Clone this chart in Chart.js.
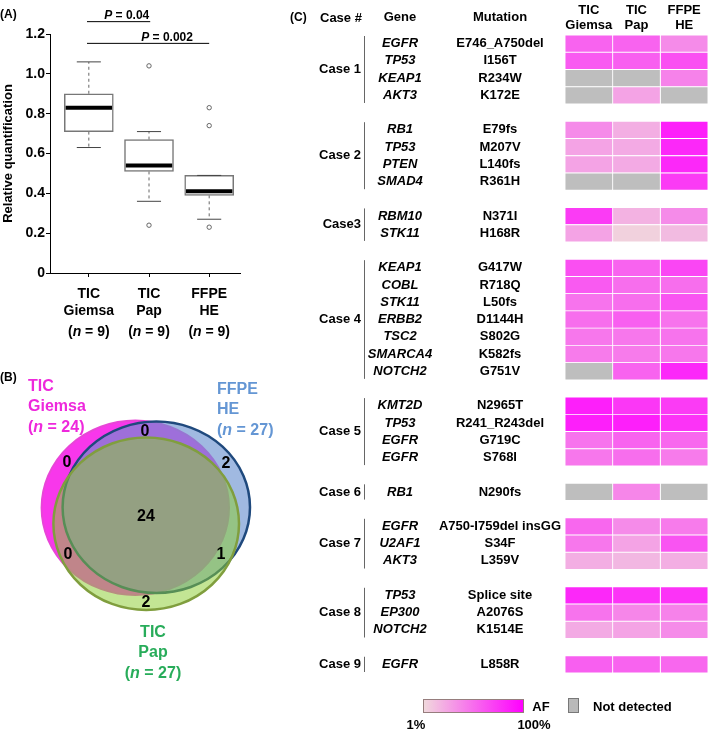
<!DOCTYPE html>
<html>
<head>
<meta charset="utf-8">
<script src="https://cdn.jsdelivr.net/npm/chart.js@4.4.0/dist/chart.umd.min.js"></script>
<style>
html, body { margin: 0; padding: 0; background: #fff; }
#wrap { position: relative; width: 709px; height: 731px; overflow: hidden; }
canvas { position: absolute; }
</style>
</head>
<body>
<div id="wrap">
	<canvas id="box" width="245" height="350" style="left:0;top:0"></canvas>
	<canvas id="venn" width="285" height="330" style="left:0;top:370px"></canvas>
	<canvas id="heat" width="424" height="731" style="left:285px;top:0"></canvas>
</div>
<script>
"use strict";

// ---- (A) box plot data ----
const groupLines = [['TIC', 'Giemsa'], ['TIC', 'Pap'], ['FFPE', 'HE']];
const groupN = [9, 9, 9];
const q1 = [0.71, 0.51, 0.39];
const median = [0.83, 0.54, 0.41];
const q3 = [0.90, 0.67, 0.49];
const whiskerLow = [0.63, 0.36, 0.27];
const whiskerHigh = [1.06, 0.71, 0.49];
const outliers = [[], [1.04, 0.24], [0.83, 0.74, 0.23]];
const yTicks = [0, 0.2, 0.4, 0.6, 0.8, 1.0, 1.2];
const pPairs = [[0, 1], [0, 2]];
const pValues = ['0.04', '0.002'];

// ---- (B) venn data ----
const vennNames = [['TIC', 'Giemsa'], ['FFPE', 'HE'], ['TIC', 'Pap']];
const vennTotals = [24, 27, 27];
// regions: Giemsa&HE only, Giemsa only, HE only, all, Giemsa&Pap only, HE&Pap only, Pap only
const vennCounts = [0, 0, 2, 24, 0, 1, 2];

// ---- (C) mutation table data ----
const caseLabels = ['Case 1', 'Case 2', 'Case3', 'Case 4', 'Case 5', 'Case 6', 'Case 7', 'Case 8', 'Case 9'];
const caseOf = [0, 0, 0, 0, 1, 1, 1, 1, 2, 2, 3, 3, 3, 3, 3, 3, 3, 4, 4, 4, 4, 5, 6, 6, 6, 7, 7, 7, 8];
const genes = ['EGFR', 'TP53', 'KEAP1', 'AKT3', 'RB1', 'TP53', 'PTEN', 'SMAD4', 'RBM10', 'STK11',
	'KEAP1', 'COBL', 'STK11', 'ERBB2', 'TSC2', 'SMARCA4', 'NOTCH2', 'KMT2D', 'TP53', 'EGFR', 'EGFR',
	'RB1', 'EGFR', 'U2AF1', 'AKT3', 'TP53', 'EP300', 'NOTCH2', 'EGFR'];
const mutations = ['E746_A750del', 'I156T', 'R234W', 'K172E', 'E79fs', 'M207V', 'L140fs', 'R361H', 'N371I', 'H168R',
	'G417W', 'R718Q', 'L50fs', 'D1144H', 'S802G', 'K582fs', 'G751V', 'N2965T', 'R241_R243del', 'G719C', 'S768I',
	'N290fs', 'A750-I759del insGG', 'S34F', 'L359V', 'Splice site', 'A2076S', 'K1514E', 'L858R'];
const columns = [['TIC', 'Giemsa'], ['TIC', 'Pap'], ['FFPE', 'HE']];
// allele frequency (%), null = not detected
const afGiemsa = [55, 59, null, null, 37, 26, 26, null, 73, 26, 64, 59, 48, 50, 46, 44, null, 86, 86, 48, 46, null, 53, 46, 21, 82, 48, 23, 57];
const afPap = [55, 57, null, 26, 21, 23, 23, null, 19, 5, 55, 50, 50, 57, 46, 44, 55, 75, 86, 55, 50, 39, 37, 26, 17, 77, 39, 26, 55];
const afHE = [37, 64, 41, null, 86, 82, 82, 73, 37, 15, 68, 50, 62, 48, 48, 46, 82, 73, 77, 53, 44, null, 44, 62, 21, 77, 41, 37, 53];

const FAMILY = '"Liberation Sans", Arial, sans-serif';
const font = (size, style) => `${style || 'bold'} ${size}px ${FAMILY}`;

Chart.defaults.font.family = FAMILY;
Chart.defaults.color = '#000';
Chart.defaults.animation = false;
Chart.defaults.plugins.legend.display = false;
Chart.defaults.plugins.tooltip.enabled = false;

function drawRuns(ctx, runs, x, y, align) {
	const widths = runs.map(r => { ctx.font = r[1]; return ctx.measureText(r[0]).width; });
	const total = widths.reduce((a, b) => a + b, 0);
	let sx = align === 'center' ? x - total / 2 : (align === 'right' ? x - total : x);
	ctx.textAlign = 'left';
	ctx.textBaseline = 'middle';
	runs.forEach((r, i) => { ctx.font = r[1]; ctx.fillText(r[0], sx, y); sx += widths[i]; });
}

function seg(x0, y0, x1, y1, color, width, dash, order) {
	return {
		type: 'line', data: [{x: x0, y: y0}, {x: x1, y: y1}],
		borderColor: color, borderWidth: width, borderDash: dash || [],
		pointRadius: 0, fill: false, tension: 0, clip: false, order: order
	};
}

// ================= (A) =================
const BOX_HALF = 0.405, CAP_HALF = 0.2;
const bracketY = [1.262, 1.153];
const pText = [{x: 1.63, y: 1.29}, {x: 2.30, y: 1.183}];

function boxDatasets() {
	const sets = [];
	sets.push({
		type: 'bar',
		data: q1.map((v, i) => ({x: i + 1, y: [v, q3[i]]})),
		backgroundColor: '#fff', borderColor: '#777', borderWidth: 1.5,
		borderSkipped: false, barThickness: 49, order: 5
	});
	q1.forEach((v, i) => {
		const x = i + 1;
		if (whiskerHigh[i] > q3[i]) sets.push(seg(x, q3[i], x, whiskerHigh[i], '#666', 1, [3, 3], 6));
		if (whiskerLow[i] < q1[i]) sets.push(seg(x, q1[i], x, whiskerLow[i], '#666', 1, [3, 3], 6));
		sets.push(seg(x - CAP_HALF, whiskerHigh[i], x + CAP_HALF, whiskerHigh[i], '#444', 1, [], 2));
		sets.push(seg(x - CAP_HALF, whiskerLow[i], x + CAP_HALF, whiskerLow[i], '#444', 1, [], 2));
		sets.push(seg(x - BOX_HALF + 0.02, median[i], x + BOX_HALF - 0.02, median[i], '#000', 4, [], 1));
	});
	sets.push({
		type: 'scatter',
		data: outliers.flatMap((list, i) => list.map(v => ({x: i + 1, y: v}))),
		pointRadius: 2.2, pointBackgroundColor: '#fff', pointBorderColor: '#666', pointBorderWidth: 1, order: 0
	});
	pPairs.forEach((p, k) => {
		sets.push(seg(p[0] + 1 - 0.03, bracketY[k], p[1] + 1 + (k === 0 ? 0.02 : 0), bracketY[k], '#000', 1, [], 0));
	});
	return sets;
}

const boxText = {
	id: 'boxText',
	afterDraw(chart) {
		const {ctx, scales: {x, y}} = chart;
		ctx.save();
		ctx.fillStyle = '#000';
		drawRuns(ctx, [['(A)', font(12)]], 0, 15, 'left');
		groupN.forEach((n, i) => {
			drawRuns(ctx, [['(', font(14)], ['n', font(14, 'italic bold')], [' = ' + n + ')', font(14)]],
				x.getPixelForValue(i + 1), 332, 'center');
		});
		pValues.forEach((p, k) => {
			drawRuns(ctx, [['P', font(12, 'italic bold')], [' = ' + p, font(12)]],
				x.getPixelForValue(pText[k].x), y.getPixelForValue(pText[k].y), 'center');
		});
		ctx.restore();
	}
};

new Chart(document.querySelector('#box').getContext('2d'), {
	type: 'scatter',
	data: {datasets: boxDatasets()},
	options: {
		responsive: false,
		layout: {padding: {top: 34, right: 4, left: 0, bottom: 0}},
		scales: {
			x: {
				type: 'linear', min: 0.355, max: 3.512, offset: false,
				afterBuildTicks: s => { s.ticks = groupLines.map((g, i) => ({value: i + 1})); },
				afterFit: s => { s.height = 77; },
				ticks: {
					callback: v => groupLines[v - 1] || '',
					font: {size: 14, weight: 'bold'}, color: '#000', padding: 9,
					maxRotation: 0, autoSkip: false
				},
				grid: {display: true, drawOnChartArea: false, offset: false, tickLength: 4, color: '#000'},
				border: {display: true, color: '#000', width: 1}
			},
			y: {
				min: 0, max: 1.2,
				afterBuildTicks: s => { s.ticks = yTicks.map(v => ({value: v})); },
				afterFit: s => { s.width = 50; },
				ticks: {
					callback: v => v === 0 ? '0' : v.toFixed(1),
					font: {size: 14, weight: 'bold'}, color: '#000', padding: 1
				},
				grid: {display: true, drawOnChartArea: false, tickLength: 4, color: '#000'},
				border: {display: true, color: '#000', width: 1},
				title: {
					display: true, text: 'Relative quantification',
					font: {size: 13, weight: 'bold'}, color: '#000', padding: {top: 1, bottom: 0}
				}
			}
		}
	},
	plugins: [boxText]
});

// ================= (B) =================
const vennShapes = [
	{cx: 135.3, cy: 137.8, rx: 93.7, ry: 87.2, fill: 'rgb(248,55,235)', stroke: 'rgb(232,70,215)', width: 2},
	{cx: 156.3, cy: 137.3, rx: 93.7, ry: 85.7, fill: 'rgba(105,144,208,0.63)', stroke: 'rgb(31,73,125)', width: 2.5},
	{cx: 146.2, cy: 153.7, rx: 92.8, ry: 86.3, fill: 'rgba(140,205,50,0.52)', stroke: 'rgb(128,158,62)', width: 2.5}
];
const vennCountPos = [[145, 62], [67, 93], [226, 94], [146, 147], [68, 185], [221, 185], [146, 233]];
const vennLabelStyle = [
	{x: 28, y: 17, align: 'left', color: 'rgb(238,40,220)'},
	{x: 217, y: 20, align: 'left', color: 'rgb(100,150,212)'},
	{x: 153, y: 263, align: 'center', color: 'rgb(40,172,90)'}
];

const vennDraw = {
	id: 'vennDraw',
	afterDraw(chart) {
		const {ctx, scales: {x, y}} = chart;
		ctx.save();
		vennShapes.forEach(e => {
			const cx = x.getPixelForValue(e.cx), cy = y.getPixelForValue(e.cy);
			const rx = Math.abs(x.getPixelForValue(e.cx + e.rx) - cx);
			const ry = Math.abs(y.getPixelForValue(e.cy + e.ry) - cy);
			ctx.beginPath();
			ctx.ellipse(cx, cy, rx, ry, 0, 0, Math.PI * 2);
			ctx.fillStyle = e.fill;
			ctx.fill();
			ctx.lineWidth = e.width;
			ctx.strokeStyle = e.stroke;
			ctx.stroke();
		});
		ctx.fillStyle = '#000';
		vennCounts.forEach((c, i) => {
			drawRuns(ctx, [[String(c), font(16)]], x.getPixelForValue(vennCountPos[i][0]), y.getPixelForValue(vennCountPos[i][1]), 'center');
		});
		vennNames.forEach((name, i) => {
			const st = vennLabelStyle[i];
			ctx.fillStyle = st.color;
			const px = x.getPixelForValue(st.x);
			drawRuns(ctx, [[name[0], font(16)]], px, y.getPixelForValue(st.y), st.align);
			drawRuns(ctx, [[name[1], font(16)]], px, y.getPixelForValue(st.y + 20), st.align);
			drawRuns(ctx, [['(', font(16)], ['n', font(16, 'italic bold')], [' = ' + vennTotals[i] + ')', font(16)]],
				px, y.getPixelForValue(st.y + 41), st.align);
		});
		ctx.fillStyle = '#000';
		drawRuns(ctx, [['(B)', font(12)]], 0, 8, 'left');
		ctx.restore();
	}
};

new Chart(document.querySelector('#venn').getContext('2d'), {
	type: 'scatter',
	data: {datasets: [{data: vennCountPos.map(p => ({x: p[0], y: p[1]})), pointRadius: 0}]},
	options: {
		responsive: false,
		layout: {padding: 0},
		scales: {
			x: {type: 'linear', min: 0, max: 285, display: false},
			y: {type: 'linear', min: 0, max: 330, reverse: true, display: false}
		}
	},
	plugins: [vennDraw]
});

// ================= (C) =================
const LO = [240, 218, 220], HI = [255, 0, 255];
function afColor(af) {
	if (af === null) return 'rgb(190,190,190)';
	const t = Math.max(0, Math.min(1, (af - 1) / 99));
	const c = LO.map((v, k) => Math.round(v + (HI[k] - v) * t));
	return `rgb(${c[0]},${c[1]},${c[2]})`;
}

// slots: rows with a blank slot between cases
const slotRow = [];
caseOf.forEach((c, r) => {
	if (r > 0 && caseOf[r - 1] !== c) slotRow.push(-1);
	slotRow.push(r);
});
const afColumns = [afGiemsa, afPap, afHE];

const heatText = {
	id: 'heatText',
	afterDraw(chart) {
		const {ctx, scales: {x, y}} = chart;
		const slotH = y.getPixelForValue(1) - y.getPixelForValue(0);
		ctx.save();
		ctx.fillStyle = '#000';
		drawRuns(ctx, [['(C)', font(12)]], 5, 18, 'left');
		drawRuns(ctx, [['Case #', font(13)]], 35, 18, 'left');
		drawRuns(ctx, [['Gene', font(13)]], 115, 17, 'center');
		drawRuns(ctx, [['Mutation', font(13)]], 215, 17, 'center');
		columns.forEach((c, i) => {
			const cx = x.getPixelForValue(i + 0.5);
			drawRuns(ctx, [[c[0], font(13)]], cx, 10, 'center');
			drawRuns(ctx, [[c[1], font(13)]], cx, 25, 'center');
		});
		slotRow.forEach((r, s) => {
			if (r < 0) return;
			const yy = y.getPixelForValue(s);
			drawRuns(ctx, [[genes[r], font(13, 'italic bold')]], 115, yy, 'center');
			drawRuns(ctx, [[mutations[r], font(13)]], 215, yy, 'center');
		});
		caseLabels.forEach((label, c) => {
			const slots = slotRow.map((r, s) => (r >= 0 && caseOf[r] === c) ? s : -1).filter(s => s >= 0);
			const top = y.getPixelForValue(slots[0]) - slotH / 2 + 1;
			const bottom = y.getPixelForValue(slots[slots.length - 1]) + slotH / 2 - 1;
			ctx.strokeStyle = '#666';
			ctx.lineWidth = 1;
			ctx.beginPath();
			ctx.moveTo(79.5, top);
			ctx.lineTo(79.5, bottom);
			ctx.stroke();
			drawRuns(ctx, [[label, font(13)]], 76, (top + bottom) / 2, 'right');
		});
		// legend
		const grad = ctx.createLinearGradient(138, 0, 238, 0);
		[1, 25, 50, 75, 100].forEach(v => grad.addColorStop((v - 1) / 99, afColor(v)));
		ctx.fillStyle = grad;
		ctx.fillRect(138, 699, 100, 13);
		ctx.strokeStyle = 'rgb(150,125,125)';
		ctx.lineWidth = 1;
		ctx.strokeRect(138.5, 699.5, 100, 13);
		ctx.fillStyle = 'rgb(185,185,185)';
		ctx.fillRect(283, 698, 10, 14);
		ctx.strokeStyle = 'rgb(120,120,120)';
		ctx.strokeRect(283.5, 698.5, 10, 14);
		ctx.fillStyle = '#000';
		drawRuns(ctx, [['AF', font(13)]], 256, 707, 'center');
		drawRuns(ctx, [['1%', font(13)]], 131, 725, 'center');
		drawRuns(ctx, [['100%', font(13)]], 249, 725, 'center');
		drawRuns(ctx, [['Not detected', font(13)]], 308, 707, 'left');
		ctx.restore();
	}
};

new Chart(document.querySelector('#heat').getContext('2d'), {
	type: 'bar',
	data: {
		labels: slotRow.map((r, s) => 'slot' + s),
		datasets: afColumns.map((col, c) => ({
			data: slotRow.map(r => r < 0 ? null : [c, c + 1]),
			backgroundColor: slotRow.map(r => r < 0 ? 'rgba(0,0,0,0)' : afColor(col[r])),
			borderColor: '#fff', borderWidth: 0.8, borderSkipped: false,
			grouped: false, categoryPercentage: 1, barPercentage: 1
		}))
	},
	options: {
		responsive: false,
		indexAxis: 'y',
		layout: {padding: {left: 280, right: 1, top: 35, bottom: 58}},
		scales: {
			x: {type: 'linear', min: 0, max: 3, display: false},
			y: {display: false}
		}
	},
	plugins: [heatText]
});
</script>
</body>
</html>
